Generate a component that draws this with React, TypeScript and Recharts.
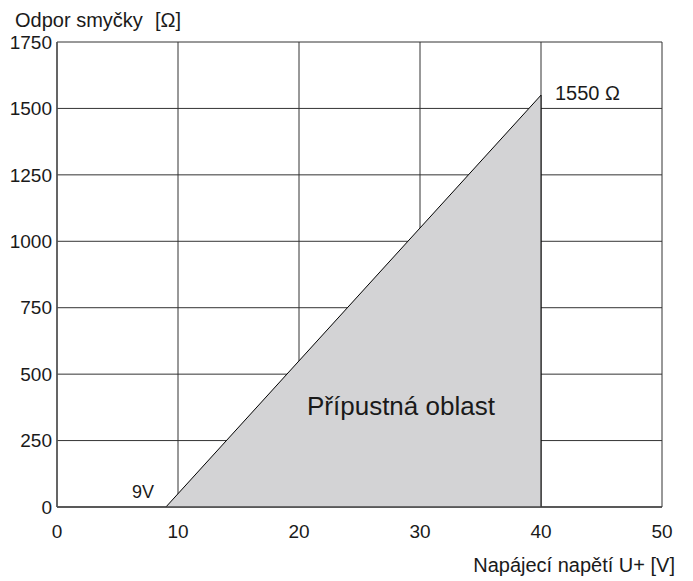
import React from 'react'
import { ComposedChart, Area, XAxis, YAxis, CartesianGrid } from 'recharts'

// napeti U+ [V] -> maximalni odpor smycky [ohm]
const voltage = [9, 40, 40]
const resistance = [0, 1550, 0]
const xTicks = [0, 10, 20, 30, 40, 50]
const yTicks = [0, 250, 500, 750, 1000, 1250, 1500, 1750]

const data = voltage.map((u, i) => ({ u, r: resistance[i] }))

const font = '"Liberation Sans", Arial, sans-serif'
const ink = '#1a1a1a'

export default function App() {
  return (
    <div style={{ position: 'absolute', left: 0, top: 0, width: 693, height: 581, background: '#fff' }}>
      <ComposedChart
        width={693}
        height={581}
        data={data}
        margin={{ top: 42, right: 31, bottom: 0, left: 0 }}
        style={{ fontFamily: font }}
      >
        <CartesianGrid stroke="#333" strokeWidth={1} horizontalValues={yTicks} verticalValues={xTicks} />
        <XAxis
          type="number"
          dataKey="u"
          domain={[0, 50]}
          ticks={xTicks}
          height={74}
          axisLine={{ stroke: '#444', strokeWidth: 1.5 }}
          tickLine={false}
          tickSize={0}
          tickMargin={18}
          tick={{ fill: ink, fontSize: 19 }}
        />
        <YAxis
          type="number"
          dataKey="r"
          domain={[0, 1750]}
          ticks={yTicks}
          width={57}
          axisLine={{ stroke: '#555', strokeWidth: 1.5 }}
          tickLine={false}
          tickSize={0}
          tickMargin={5}
          tick={{ fill: ink, fontSize: 19 }}
        />
        <Area
          type="linear"
          dataKey="r"
          stroke="#000"
          strokeWidth={1}
          fill="#d3d3d5"
          fillOpacity={1}
          dot={false}
          activeDot={false}
          isAnimationActive={false}
        />
      </ComposedChart>
      <svg
        width={693}
        height={581}
        style={{ position: 'absolute', left: 0, top: 0, pointerEvents: 'none', fontFamily: font }}
      >
        <text x={15} y={27} fontSize={20} fill={ink}>Odpor smyčky</text>
        <text x={155} y={27} fontSize={20} fill={ink}>[Ω]</text>
        <text x={675} y={572} fontSize={20} fill={ink} textAnchor="end">Napájecí napětí U+ [V]</text>
        <text x={132} y={498} fontSize={18} fill={ink}>9V</text>
        <text x={555} y={100} fontSize={20} fill={ink}>1550 Ω</text>
        <text x={307} y={415} fontSize={26} fill={ink}>Přípustná oblast</text>
      </svg>
    </div>
  )
}
